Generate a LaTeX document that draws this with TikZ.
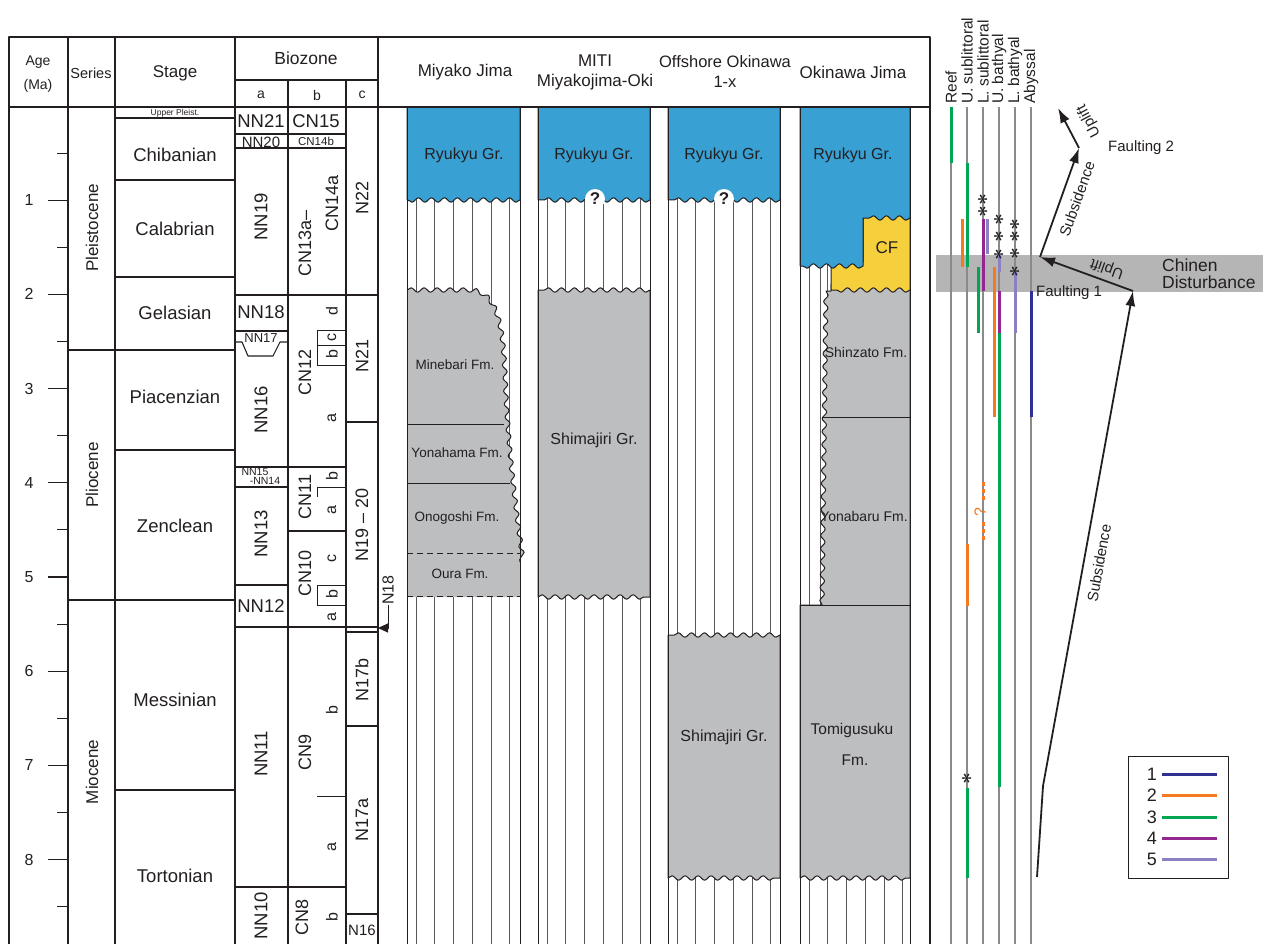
\documentclass[tikz,border=0pt]{standalone}
\usepackage{fontspec}
\setmainfont{Liberation Sans}
\usetikzlibrary{positioning,arrows.meta,decorations.pathmorphing}
\definecolor{ink}{HTML}{231F20}
\definecolor{reefblue}{HTML}{38A0D2}
\definecolor{rock}{HTML}{BCBEC0}
\definecolor{cfyel}{HTML}{F6D03C}
\definecolor{band}{HTML}{B5B5B5}
\definecolor{envgray}{HTML}{8A8A8A}
\definecolor{lgnavy}{HTML}{2E3192}
\definecolor{lgorange}{HTML}{F47920}
\definecolor{lggreen}{HTML}{00A651}
\definecolor{lgpurple}{HTML}{92278F}
\definecolor{lglav}{HTML}{8B80C2}
\newcommand{\fs}[1]{\fontsize{#1}{#1}\selectfont}

\begin{document}
\begin{tikzpicture}[x=1pt,y=-1pt,line join=round,
  frm/.style={draw=ink,line width=1.6pt},
  rule/.style={draw=ink,line width=1.1pt},
  tk/.style={draw=ink,line width=0.9pt},
  hatch/.style={draw=ink!75,line width=0.6pt},
  wave/.style={decoration={snake,amplitude=2.2pt,segment length=13pt}},
  lbl/.style={text=ink,inner sep=0pt},
  rot/.style={lbl,rotate=90},
  env/.style={draw=envgray,line width=1.2pt},
  bar/.style={line width=3pt},
  mv/.style={draw=ink,line width=1.8pt,-{Latex[length=15pt,width=10pt]}}]
  \useasboundingbox (0,0) rectangle (1263,944);
  \clip (0,0) rectangle (1263,944);

  % hatched hiatus
  \foreach \cx in {407,538,668,800}
    \foreach \k in {0,...,5}
      \draw[hatch] ({\cx+9+18.7*\k},107) -- ({\cx+9+18.7*\k},944);
  \draw[hatch] (820,260) -- (820,610);

  % Miyako Jima
  \filldraw[fill=reefblue,draw=ink,line width=1pt] (407,107) -- (520,107) -- (520,200) decorate[wave]{-- (407,200)} -- cycle;
  \fill[rock] (407,290) decorate[wave]{-- (468,290) .. controls (496,292) and (500,330) .. (502,380) .. controls (505,450) and (512,505) .. (520,562)} -- (520,597) -- (407,597) -- cycle;
  \draw[tk] (407,424) -- (504,424) (407,483) -- (510,483);
  \draw[ink,line width=1pt] (407,290) decorate[wave]{-- (468,290) .. controls (496,292) and (500,330) .. (502,380) .. controls (505,450) and (512,505) .. (520,562)};
  \draw[tk,dash pattern=on 6pt off 4pt] (407,553) -- (520,553) (407,596) -- (520,596);

  % MITI Miyakojima-Oki
  \filldraw[fill=reefblue,draw=ink,line width=1pt] (538,107) -- (650,107) -- (650,200) decorate[wave]{-- (538,200)} -- cycle;
  \filldraw[fill=rock,draw=ink,line width=1pt] (538,597) decorate[wave]{-- (650,597)} -- (650,290) decorate[wave]{-- (538,290)} -- cycle;

  % Offshore Okinawa
  \filldraw[fill=reefblue,draw=ink,line width=1pt] (668,107) -- (780,107) -- (780,200) decorate[wave]{-- (668,200)} -- cycle;
  \filldraw[fill=rock,draw=ink,line width=1pt] (668,878) decorate[wave]{-- (780,878)} -- (780,635) decorate[wave]{-- (668,635)} -- cycle;

  % Okinawa Jima
  \filldraw[fill=rock,draw=ink,line width=1pt] (800,878) decorate[wave]{-- (910,878)} -- (910,284) -- (831,284) -- (831,291) -- (826,291) decorate[wave]{-- (822,605)} -- (800,605) -- cycle;
  \draw[tk] (822,417) -- (910,417) (800,605) -- (910,605);
  \filldraw[fill=cfyel,draw=ink,line width=1pt] (831,262) -- (863,262) -- (863,212) -- (910,212) -- (910,290) decorate[wave]{-- (831,290)} -- cycle;
  \filldraw[fill=reefblue,draw=ink,line width=1pt] (800,107) -- (910,107) -- (910,218) decorate[wave]{-- (863,218)} -- (863,266) decorate[wave]{-- (800,266)} -- cycle;

  \foreach \bx in {407,520,538,650,668,780,800,910}
    \draw[ink,line width=1pt] (\bx,107) -- (\bx,944);

  \node[lbl,font=\fs{16}] (ry1) at (464,155) {Ryukyu Gr.};
  \node[lbl,font=\fs{16}] (ry2) at (594,155) {Ryukyu Gr.};
  \node[lbl,font=\fs{16}] (ry3) at (724,155) {Ryukyu Gr.};
  \node[lbl,font=\fs{16}] (ry4) at (853,155) {Ryukyu Gr.};
  \node[circle,fill=white,inner sep=1.5pt,text=ink,font=\bfseries\fs{17}] (q1) at (595,199) {?};
  \node[circle,fill=white,inner sep=1.5pt,text=ink,font=\bfseries\fs{17}] (q2) at (724,199) {?};
  \node[lbl,font=\fs{13.5}] (mine) at (455,365) {Minebari Fm.};
  \node[lbl,font=\fs{13.5}] (yona) at (457,453) {Yonahama Fm.};
  \node[lbl,font=\fs{13.5}] (onog) at (457,518) {Onogoshi Fm.};
  \node[lbl,font=\fs{13.5}] (oura) at (460,574) {Oura Fm.};
  \node[lbl,font=\fs{16}] (shim1) at (594,440) {Shimajiri Gr.};
  \node[lbl,font=\fs{16}] (shim2) at (724,737) {Shimajiri Gr.};
  \node[lbl,font=\fs{17}] (cf) at (887,248) {CF};
  \node[lbl,font=\fs{14}] (shin) at (866,352) {Shinzato Fm.};
  \node[lbl,font=\fs{14}] (yonb) at (864,516) {Yonabaru Fm.};
  \node[lbl,font=\fs{15.5}] (tomi) at (852,730) {Tomigusuku};
  \node[lbl,font=\fs{15.5}] (tofm) at (855,760) {Fm.};

  % table frame
  \draw[frm] (9,944) -- (9,37) -- (930,37) -- (930,944);
  \draw[frm] (9,107) -- (930,107);
  \foreach \vx in {68,115,235,378}
    \draw[frm] (\vx,37) -- (\vx,944);
  \draw[rule] (235,80) -- (378,80);
  \foreach \vx in {288,346}
    \draw[rule] (\vx,80) -- (\vx,944);

  \node[lbl,font=\fs{14}] (hage) at (38,62) {Age};
  \node[lbl,font=\fs{14}] (hma) at (38,86) {(Ma)};
  \node[lbl,font=\fs{14.5}] (hser) at (91,73) {Series};
  \node[lbl,font=\fs{17}] (hstg) at (175,73) {Stage};
  \node[lbl,font=\fs{17.5}] (hbio) at (306,58) {Biozone};
  \node[lbl,font=\fs{14}] (ha) at (261,95) {a};
  \node[lbl,font=\fs{14}] (hb) at (317,95) {b};
  \node[lbl,font=\fs{14}] (hc) at (362,95) {c};
  \node[lbl,font=\fs{17}] (hmy) at (465,72) {Miyako Jima};
  \node[lbl,font=\fontsize{17}{20}\selectfont,align=center] (hmi) at (595,72) {MITI\\Miyakojima-Oki};
  \node[lbl,font=\fontsize{16.5}{20}\selectfont,align=center] (hof) at (725,72) {Offshore Okinawa\\1-x};
  \node[lbl,font=\fs{17}] (hok) at (853,72) {Okinawa Jima};

  % age scale
  \foreach \k in {1,...,8} {
    \draw[rule] (48,{106+94.2*\k}) -- (68,{106+94.2*\k});
    \node[lbl,font=\fs{16}] (age\k) at (29,{106+94.2*\k}) {\k};
  }
  \foreach \k in {0,...,8}
    \draw[rule] (57,{153.1+94.2*\k}) -- (68,{153.1+94.2*\k});

  % series and stages
  \draw[rule] (68,350) -- (235,350) (68,600) -- (235,600);
  \foreach \sy in {118,180,277,450,790}
    \draw[rule] (115,\sy) -- (235,\sy);
  \node[rot,font=\fs{17}] (plei) at (92,228) {Pleistocene};
  \node[rot,font=\fs{17}] (plio) at (92,475) {Pliocene};
  \node[rot,font=\fs{17}] (mioc) at (92,772) {Miocene};
  \node[lbl,font=\fs{8.5}] (upl) at (175,113) {Upper Pleist.};
  \node[lbl,font=\fs{18.5}] (chib) at (175,155) {Chibanian};
  \node[lbl,font=\fs{18.5}] (cala) at (175,229) {Calabrian};
  \node[lbl,font=\fs{18.5}] (gela) at (175,313) {Gelasian};
  \node[lbl,font=\fs{18.5}] (piac) at (175,397) {Piacenzian};
  \node[lbl,font=\fs{18.5}] (zanc) at (175,526) {Zenclean};
  \node[lbl,font=\fs{18.5}] (mess) at (175,700) {Messinian};
  \node[lbl,font=\fs{18.5}] (tort) at (175,876) {Tortonian};

  % biozone lines
  \foreach \zy in {134,148,467,887}
    \draw[rule] (235,\zy) -- (346,\zy);
  \foreach \zy in {295,627}
    \draw[rule] (235,\zy) -- (378,\zy);
  \foreach \zy in {331,487,585}
    \draw[rule] (235,\zy) -- (288,\zy);
  \draw[rule] (288,531) -- (346,531);
  \foreach \zy in {422,632,726,914}
    \draw[rule] (346,\zy) -- (378,\zy);
  \draw[rule] (235,342) -- (242,342) -- (248,356) -- (273,356) -- (280,342) -- (288,342);
  \foreach \zy in {330,345,365,487,585,605,796}
    \draw[tk] (317,\zy) -- (346,\zy);
  \draw[tk] (317,330) -- (317,365) (317,487) -- (317,497) (317,585) -- (317,605);

  \node[lbl,font=\fs{18.5}] (nn21) at (261,121) {NN21};
  \node[lbl,font=\fs{15}] (nn20) at (261,142) {NN20};
  \node[rot,font=\fs{18.5}] (nn19) at (261,217) {NN19};
  \node[lbl,font=\fs{18.5}] (nn18) at (261,312) {NN18};
  \node[lbl,font=\fs{13}] (nn17) at (261,338) {NN17};
  \node[rot,font=\fs{18.5}] (nn16) at (261,410) {NN16};
  \node[lbl,font=\fs{10.5}] (nn15) at (255,472) {NN15};
  \node[lbl,font=\fs{10.5}] (nn14) at (265,481) {-NN14};
  \node[rot,font=\fs{18.5}] (nn13) at (261,534) {NN13};
  \node[lbl,font=\fs{18.5}] (nn12) at (261,606) {NN12};
  \node[rot,font=\fs{18.5}] (nn11) at (261,754) {NN11};
  \node[rot,font=\fs{18.5}] (nn10) at (261,916) {NN10};

  \node[lbl,font=\fs{18.5}] (cn15) at (316,121) {CN15};
  \node[lbl,font=\fs{11.5}] (cn14b) at (316,141) {CN14b};
  \node[rot,font=\fs{18}] (cn13) at (305,243) {CN13a--};
  \node[rot,font=\fs{18}] (cn14) at (332,203) {CN14a};
  \node[rot,font=\fs{18}] (cn12) at (305,372) {CN12};
  \node[rot,font=\fs{18}] (cn11) at (305,497) {CN11};
  \node[rot,font=\fs{18}] (cn10) at (305,573) {CN10};
  \node[rot,font=\fs{18}] (cn9) at (305,752) {CN9};
  \node[rot,font=\fs{18}] (cn8) at (302,917) {CN8};
  \foreach \sy/\sl in {311/d,337/c,354/b,418/a,476/b,510/a,558/c,594/b,617/a,710/b,847/a,917/b}
    \node[rot,font=\fs{16}] (sub\sy) at (332,\sy) {\sl};

  \node[rot,font=\fs{18}] (n22) at (362,198) {N22};
  \node[rot,font=\fs{18}] (n21) at (362,356) {N21};
  \node[rot,font=\fs{18}] (n1920) at (362,525) {N19 -- 20};
  \node[rot,font=\fs{18}] (n17b) at (362,680) {N17b};
  \node[rot,font=\fs{18}] (n17a) at (362,820) {N17a};
  \node[lbl,font=\fs{15}] (n16) at (362,930) {N16};
  \node[rot,font=\fs{16}] (n18) at (388,590) {N18};
  \coordinate (t18) at (378,628);
  \draw[ink,line width=1pt,-{Triangle[length=10pt,width=9pt]}] (n18.west) |- (t18);

  % palaeo-depth panel
  \fill[band] (936,255) rectangle (1263,292);
  \foreach \ex/\en in {951/Reef,967/U. sublittoral,983/L. sublittoral,999/U. bathyal,1015/L. bathyal,1031/Abyssal} {
    \draw[env] (\ex,107) -- (\ex,944);
    \node[rot,anchor=west,font=\fs{15.5}] (e\ex) at (\ex,104) {\en};
  }
  \draw[bar,lggreen] (951,107) -- (951,163);
  \draw[bar,lggreen] (967,163) -- (967,267);
  \draw[bar,lgorange] (962,219) -- (962,267);
  \draw[bar,lgpurple] (983,219) -- (983,291);
  \draw[bar,lglav] (987,219) -- (987,254);
  \draw[bar,lglav] (999,255) -- (999,272);
  \draw[bar,lglav] (1015,272) -- (1015,333);
  \draw[bar,lggreen] (978,267) -- (978,333);
  \draw[bar,lgorange] (994,267) -- (994,417);
  \draw[bar,lgpurple] (999,291) -- (999,333);
  \draw[bar,lggreen] (999,333) -- (999,787);
  \draw[bar,lgnavy] (1031,291) -- (1031,417);
  \draw[bar,lgorange,dash pattern=on 4pt off 3pt] (983,482) -- (983,502) (983,522) -- (983,542);
  \node[rot,text=lgorange,font=\fs{16}] (qd) at (980,512) {?};
  \draw[bar,lgorange] (967,544) -- (967,606);
  \draw[bar,lggreen] (967,788) -- (967,878);
  \node[rot,font=\fs{20}\boldmath] (st2) at (983,206) {$\ast\ast$};
  \node[rot,font=\fs{20}\boldmath] (st3) at (999,237) {$\ast\ast\ast$};
  \node[rot,font=\fs{20}\boldmath] (st4) at (1015,248) {$\ast\ast\ast\ast$};
  \node[rot,font=\fs{20}\boldmath] (st1) at (967,779) {$\ast$};

  % subsidence and uplift
  \coordinate (s0) at (1037,877);
  \coordinate (s1) at (1043,786);
  \coordinate (f1) at (1133,291);
  \coordinate (u1) at (1040,257);
  \coordinate (f2) at (1079,148);
  \coordinate (u2) at (1058,108);
  \draw[mv] (s0) -- (s1) -- (f1);
  \draw[mv] (f1) -- (u1);
  \draw[mv] (u1) -- (f2);
  \draw[mv] (f2) -- (u2);
  \node[lbl,rotate=79.7,font=\fs{15}] (subs1) at (1099,563) {Subsidence};
  \node[lbl,rotate=70.3,font=\fs{15}] (subs2) at (1077,199) {Subsidence};
  \node[lbl,rotate=160.5,font=\fs{15}] (upl1) at (1107,268) {Uplift};
  \node[lbl,rotate=117.7,font=\fs{15}] (upl2) at (1089,121) {Uplift};
  \node[lbl,anchor=west,font=\fs{15}] (flt2) at (1108,148) {Faulting 2};
  \node[lbl,anchor=west,font=\fs{15}] (flt1) at (1036,293) {Faulting 1};
  \node[lbl,anchor=west,font=\fs{17.5}] (chin) at (1162,265) {Chinen};
  \node[lbl,anchor=west,font=\fs{17.5}] (dist) at (1162,282) {Disturbance};

  % legend
  \draw[ink,line width=1pt] (1128,756) rectangle (1228,878);
  \foreach \i/\c/\ly in {1/lgnavy/774,2/lgorange/795,3/lggreen/817,4/lgpurple/838,5/lglav/859} {
    \node[lbl,anchor=east,font=\fs{18}] (lg\i) at (1157,\ly) {\i};
    \draw[bar,\c] (1162,\ly) -- (1217,\ly);
  }
\end{tikzpicture}
\end{document}
